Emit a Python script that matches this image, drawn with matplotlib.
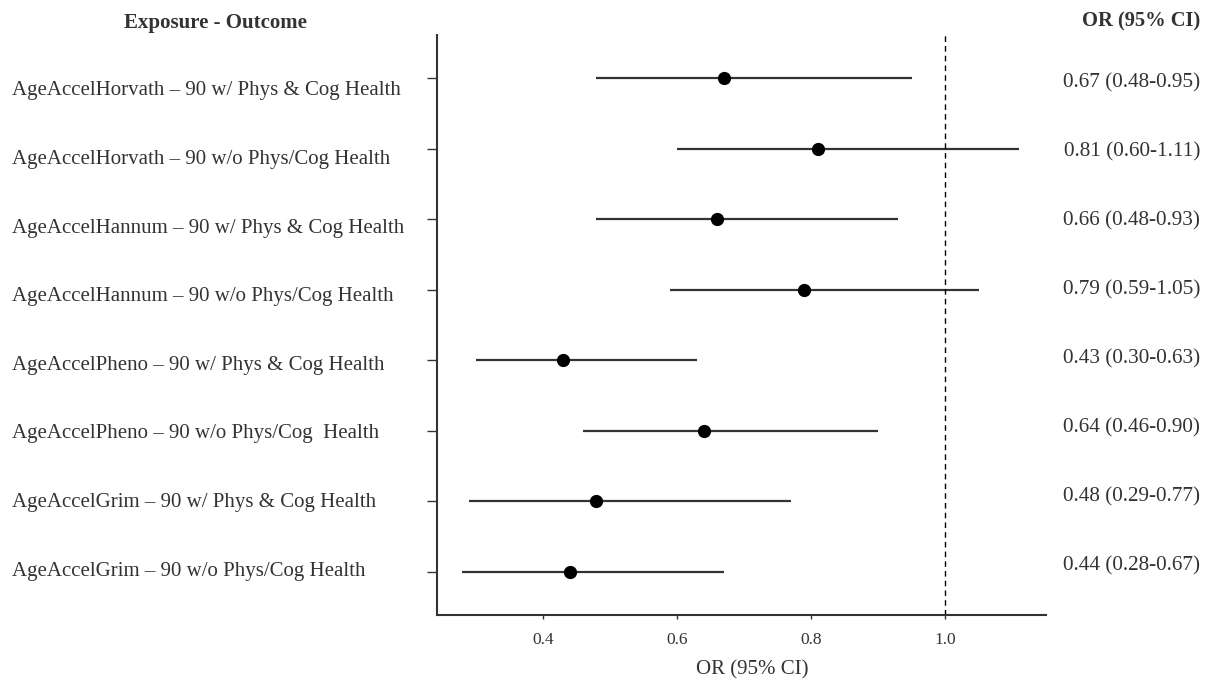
import matplotlib
matplotlib.use("Agg")
import matplotlib.pyplot as plt
import matplotlib.transforms as mtransforms

plt.rcParams['font.family'] = ['Liberation Serif', 'DejaVu Serif']

# data (top to bottom)
labels = [
    "AgeAccelHorvath \u2013 90 w/ Phys & Cog Health",
    "AgeAccelHorvath \u2013 90 w/o Phys/Cog Health",
    "AgeAccelHannum \u2013 90 w/ Phys & Cog Health",
    "AgeAccelHannum \u2013 90 w/o Phys/Cog Health",
    "AgeAccelPheno \u2013 90 w/ Phys & Cog Health",
    "AgeAccelPheno \u2013 90 w/o Phys/Cog  Health",
    "AgeAccelGrim \u2013 90 w/ Phys & Cog Health",
    "AgeAccelGrim \u2013 90 w/o Phys/Cog Health",
]
or_vals = [0.67, 0.81, 0.66, 0.79, 0.43, 0.64, 0.48, 0.44]
ci_low = [0.48, 0.60, 0.48, 0.59, 0.30, 0.46, 0.29, 0.28]
ci_high = [0.95, 1.11, 0.93, 1.05, 0.63, 0.90, 0.77, 0.67]
xticks = [0.4, 0.6, 0.8, 1.0]

txt = '#333333'
fig = plt.figure(figsize=(12.1, 6.81), dpi=100)
ax = fig.add_axes([0.361, 0.097, 0.5035, 0.8517])

n = len(labels)
ys = list(range(n, 0, -1))

ax.hlines(ys, ci_low, ci_high, color='#333333', lw=1.6)
ax.plot(or_vals, ys, 'o', color='black', ms=8.5, zorder=3)
ax.axvline(1.0, color='black', ls=(0, (4, 3)), lw=1)

ax.set_xlim(0.242, 1.15)
ax.set_ylim(0.39, n + 0.61)
ax.set_xticks(xticks)
ax.set_xticklabels([f"{v:.1f}" for v in xticks], fontsize=12.5, color=txt)
ax.tick_params(axis='x', length=3, width=1, color='#333333', pad=9)
ax.set_yticks(ys)
ax.set_yticklabels([])
ax.tick_params(axis='y', length=7, width=1, color='#333333', direction='out')
ax.set_xlabel("OR (95% CI)", fontsize=15, color=txt)
ax.xaxis.set_label_coords(0.518, -0.078)

for s in ['top', 'right']:
    ax.spines[s].set_visible(False)
for s in ['left', 'bottom']:
    ax.spines[s].set_color('#333333')
    ax.spines[s].set_linewidth(1.5)

# row pitch in the reference is ~70.6 px; text columns drift slightly against it
pitch = 70.6
trans = mtransforms.blended_transform_factory(fig.transFigure, ax.transData)
for i, (y, lab, o, lo, hi) in enumerate(zip(ys, labels, or_vals, ci_low, ci_high)):
    left_off = (13 - 1.97 * i) / pitch
    right_off = (5 - 1.57 * i) / pitch
    ax.text(0.01, y - left_off, lab, transform=trans, ha='left', va='center',
            fontsize=15, color=txt)
    ax.text(0.992, y - right_off, f"{o:.2f} ({lo:.2f}-{hi:.2f})", transform=trans,
            ha='right', va='center', fontsize=15.3, color=txt)

fig.text(0.178, 0.966, "Exposure - Outcome", ha='center', va='center',
         fontsize=15, fontweight='bold', color=txt)
fig.text(0.992, 0.969, "OR (95% CI)", ha='right', va='center',
         fontsize=14.8, fontweight='bold', color=txt)

fig.savefig("out.png", dpi=100)
